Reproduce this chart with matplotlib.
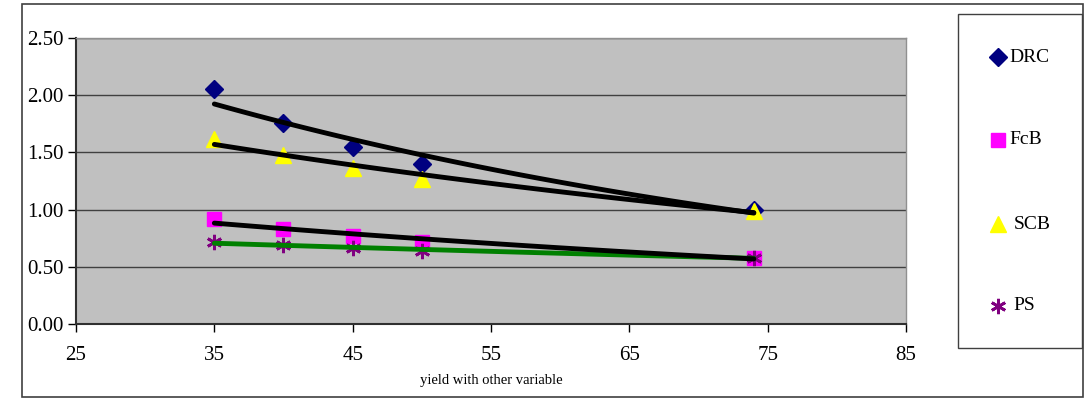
import numpy as np
import matplotlib
matplotlib.use("Agg")
import matplotlib.pyplot as plt
from matplotlib.patches import Rectangle
from matplotlib.lines import Line2D

plt.rcParams['font.family'] = ['Liberation Serif', 'DejaVu Serif']

x = [35, 40, 45, 50, 74]
drc = [2.05, 1.76, 1.55, 1.40, 1.00]
fcb = [0.92, 0.83, 0.77, 0.72, 0.58]
scb = [1.62, 1.48, 1.36, 1.27, 0.99]
ps = [0.72, 0.69, 0.66, 0.64, 0.58]
labels = ["DRC", "FcB", "SCB", "PS"]
xticks = [25, 35, 45, 55, 65, 75, 85]
yticks = [0.0, 0.5, 1.0, 1.5, 2.0, 2.5]

fig = plt.figure(figsize=(10.84, 4.0), dpi=100)
ax = fig.add_axes([76/1084, 1-324/400, (906-76)/1084, (324-38)/400])
ax.set_facecolor('#c0c0c0')

# outer chart border
fig.add_artist(Rectangle((22/1084, 3/400), (1083-22)/1084, (396-3)/400, transform=fig.transFigure,
                         fill=False, edgecolor='#404040', lw=1.2))
# legend box
fig.add_artist(Rectangle((958/1084, 1-348/400), (1082-958)/1084, (348-14)/400, transform=fig.transFigure,
                         fill=False, edgecolor='#404040', lw=1.0))

styles = [
    dict(marker='D', color='#000080', ms=9),
    dict(marker='s', color='#ff00ff', ms=10),
    dict(marker='^', color='#ffff00', ms=11),
    dict(marker=(6, 2, 0), color='#800080', ms=11, mew=2),
]
series = [drc, fcb, scb, ps]
trend_colors = ['black', 'black', 'black', '#008000']

xa = np.array(x, dtype=float)
xs = np.linspace(min(x), max(x), 100)
for ys, st in zip(series, styles):
    kw = dict(st)
    c = kw.pop('color')
    ax.plot(x, ys, linestyle='none', markerfacecolor=c, markeredgecolor=c, zorder=3, **kw)
# trendlines (exponential fit) drawn on top
order = [3, 0, 1, 2]
for i in order:
    ys = np.array(series[i])
    b, lna = np.polyfit(xa, np.log(ys), 1)
    ax.plot(xs, np.exp(lna + b * xs), color=trend_colors[i], lw=3.5, solid_capstyle='round', zorder=4)

ax.set_xlim(25, 85)
ax.set_ylim(0, 2.5)
ax.set_xticks(xticks)
ax.set_yticks(yticks)
ax.set_yticklabels([f"{v:.2f}" for v in yticks])
ax.grid(axis='y', color='#404040', lw=1.0)
ax.set_axisbelow(True)
ax.tick_params(axis='both', direction='out', length=6, width=1, labelsize=15, colors='black')
ax.tick_params(axis='x', pad=10)
ax.tick_params(axis='y', pad=3)
for s in ['left', 'bottom']:
    ax.spines[s].set_color('#303030')
    ax.spines[s].set_linewidth(1.5)
for s in ['top', 'right']:
    ax.spines[s].set_color('#909090')
    ax.spines[s].set_linewidth(1.0)
ax.set_xlabel("yield with other variable", fontsize=10.5, labelpad=6)

# legend entries
ly = [57, 140, 224, 306]
lx = [1009, 1009, 1014, 1013]
for lab, st, yy, tx in zip(labels, styles, ly, lx):
    kw = dict(st)
    c = kw.pop('color')
    fig.add_artist(Line2D([998/1084], [1-yy/400], transform=fig.transFigure, linestyle='none',
                          markerfacecolor=c, markeredgecolor=c, **kw))
    fig.text(tx/1084, 1-yy/400, lab, fontsize=14, va='center', ha='left')

fig.savefig("out.png", dpi=100)
